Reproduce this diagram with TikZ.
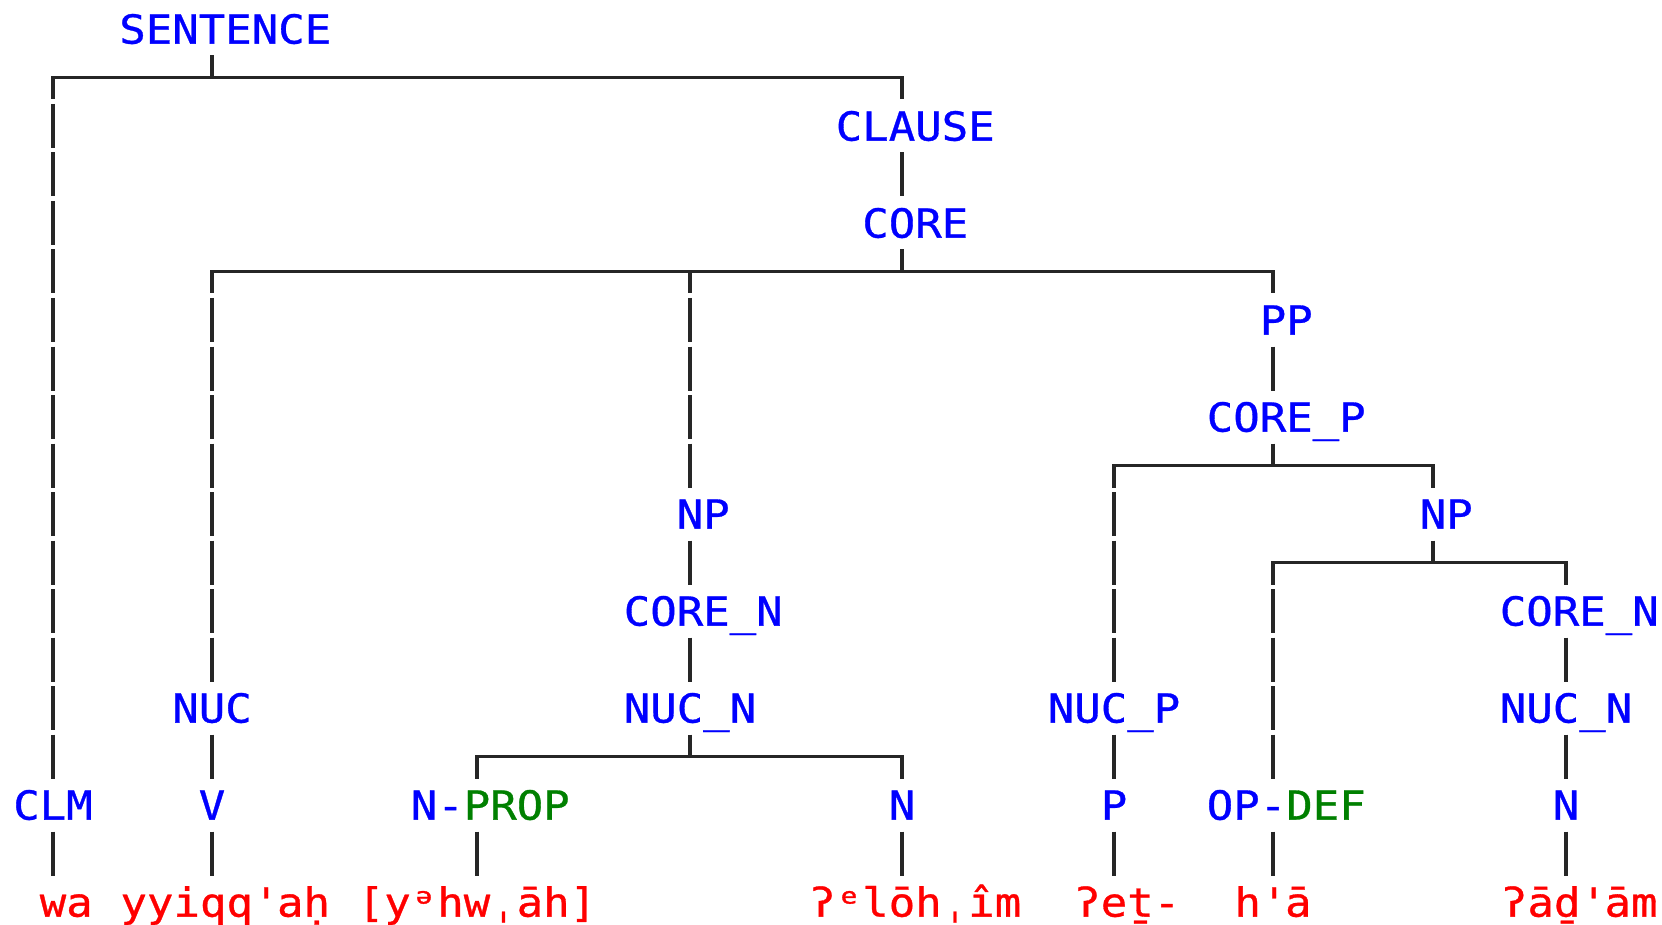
\documentclass[tikz,border=0pt]{standalone}
\usepackage{fontspec}
\newfontfamily\monof[FakeStretch=1.1,FakeBold=0.8]{DejaVu Sans Mono}
\definecolor{lblue}{RGB}{0,0,255}
\definecolor{lgreen}{RGB}{0,128,0}
\definecolor{lred}{RGB}{255,0,0}
\definecolor{lline}{RGB}{38,38,38}
\newcommand{\ph}{\phantom{X}}
\begin{document}
\begin{tikzpicture}[x=1pt,y=-1pt,
  lab/.style={inner sep=0pt, outer sep=0pt, minimum height=53pt, text height=29.2pt, text depth=0pt, font=\monof\fontsize{40}{48}\selectfont, text=lblue},
  word/.style={lab, text=lred},
  hline/.style={draw=lline, line width=3.2pt, line cap=rect},
  upstem/.style={draw=lline, line width=3.2pt, dash pattern=on 44pt off 4.5pt, dash phase=0pt},
  downstem/.style={draw=lline, line width=3.2pt, dash pattern=on 44pt off 4.5pt, dash phase=22pt}]
\fill[white] (0,0) rectangle (1662,925);
\useasboundingbox (0,0) rectangle (1662,925);
% labels
\node[lab] (sentence) at (212,29) {\ph SENTENCE};
\node[lab] (clause) at (902,126) {\ph CLAUSE};
\node[lab] (core) at (902,223) {\ph CORE};
\node[lab] (pp) at (1273,320) {\ph PP};
\node[lab] (corep) at (1273,417) {\ph CORE\_P};
\node[lab] (npa) at (690,514) {\ph NP};
\node[lab] (npb) at (1433,514) {\ph NP};
\node[lab] (corena) at (690,611) {\ph CORE\_N};
\node[lab] (corenb) at (1566,611) {\ph CORE\_N};
\node[lab] (nuc) at (212,708) {NUC};
\node[lab] (nucna) at (690,708) {NUC\_N};
\node[lab] (nucp) at (1114,708) {NUC\_P};
\node[lab] (nucnb) at (1566,708) {NUC\_N};
\node[lab] (clm) at (53,805) {CLM};
\node[lab] (v) at (212,805) {V};
\node[lab] (nprop) at (477,805) {\ph N-\textcolor{lgreen}{PROP}};
\node[lab] (na) at (902,805) {N};
\node[lab] (p) at (1114,805) {P};
\node[lab] (opdef) at (1273,805) {\ph OP-\textcolor{lgreen}{DEF}};
\node[lab] (nb) at (1566,805) {N};
% words
\node[word] (wa) at (53,902) {\ph wa};
\node[word] (wb) at (212,902) {\ph yyiqq\textquotesingle aḥ};
\node[word] (wc) at (477,902) {[yᵊhwˌāh]};
\node[word] (wd) at (902,902) {\ph ʔᵉlōhˌîm};
\node[word] (we) at (1114,902) {\ph ʔeṯ-};
\node[word] (wf) at (1273,902) {h\textquotesingle ā};
\node[word] (wg) at (1566,902) {\ph ʔāḏ\textquotesingle ām};
% junctions
\coordinate (j0) at (212,77.5);
\coordinate (j2) at (902,271.5);
\coordinate (j4) at (1273,465.5);
\coordinate (j5) at (1433,562.5);
\coordinate (j7) at (690,756.5);
% SENTENCE
\draw[upstem] (sentence.south) -- (j0);
\draw[hline] (j0 -| clm) -- (j0 -| clause);
\draw[downstem] (j0 -| clm) -- (clm.north);
\draw[downstem] (j0 -| clause) -- (clause.north);
\draw[upstem] (clause.south) -- (core.north);
% CORE
\draw[upstem] (core.south) -- (j2);
\draw[hline] (j2 -| nuc) -- (j2 -| pp);
\draw[downstem] (j2 -| nuc) -- (nuc.north);
\draw[downstem] (j2 -| npa) -- (npa.north);
\draw[downstem] (j2 -| pp) -- (pp.north);
% PP
\draw[upstem] (pp.south) -- (corep.north);
\draw[upstem] (corep.south) -- (j4);
\draw[hline] (j4 -| nucp) -- (j4 -| npb);
\draw[downstem] (j4 -| nucp) -- (nucp.north);
\draw[downstem] (j4 -| npb) -- (npb.north);
% NP right
\draw[upstem] (npb.south) -- (j5);
\draw[hline] (j5 -| opdef) -- (j5 -| corenb);
\draw[downstem] (j5 -| opdef) -- (opdef.north);
\draw[downstem] (j5 -| corenb) -- (corenb.north);
\draw[upstem] (corenb.south) -- (nucnb.north);
\draw[upstem] (nucnb.south) -- (nb.north);
% NP middle
\draw[upstem] (npa.south) -- (corena.north);
\draw[upstem] (corena.south) -- (nucna.north);
\draw[upstem] (nucna.south) -- (j7);
\draw[hline] (j7 -| nprop) -- (j7 -| na);
\draw[downstem] (j7 -| nprop) -- (nprop.north);
\draw[downstem] (j7 -| na) -- (na.north);
% others
\draw[upstem] (nuc.south) -- (v.north);
\draw[upstem] (nucp.south) -- (p.north);
% to words
\draw[upstem] (clm.south) -- (wa.north);
\draw[upstem] (v.south) -- (wb.north);
\draw[upstem] (nprop.south) -- (wc.north);
\draw[upstem] (na.south) -- (wd.north);
\draw[upstem] (p.south) -- (we.north);
\draw[upstem] (opdef.south) -- (wf.north);
\draw[upstem] (nb.south) -- (wg.north);
\end{tikzpicture}
\end{document}
